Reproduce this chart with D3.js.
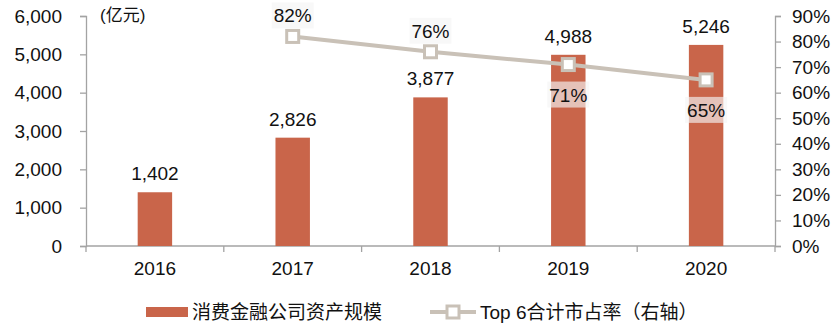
<!DOCTYPE html>
<html>
<head>
<meta charset="utf-8">
<script src="https://cdn.jsdelivr.net/npm/d3@7"></script>
<style>
  body { margin: 0; background: #fff; }
  text { font-family: "Liberation Sans", Arial, "Noto Sans CJK SC", sans-serif; fill: #111; }
</style>
</head>
<body>
<div id="vis"></div>
<script>
const years = ['2016', '2017', '2018', '2019', '2020'];
const assets = [1402, 2826, 3877, 4988, 5246];          // 亿元
const share = [null, 0.82, 0.76, 0.71, 0.65];            // Top 6 market share
const shareLabelPos = [null, 'above', 'above', 'below', 'below'];
const leftTicks = [0, 1000, 2000, 3000, 4000, 5000, 6000];
const rightTicks = [0, 0.1, 0.2, 0.3, 0.4, 0.5, 0.6, 0.7, 0.8, 0.9];
const barName = '消费金融公司资产规模';
const lineName = 'Top 6合计市占率（右轴）';
const unitLabel = '(亿元)';

const W = 838, H = 325;
const margin = { top: 16, right: 63, bottom: 79, left: 86 };
const width = W - margin.left - margin.right;
const height = H - margin.top - margin.bottom;

const barColor = '#c9654a';
const lineColor = '#c9c1b7';
const axisColor = '#a3a3a3';
const fs = 19;

const svg = d3.select('#vis')
    .append('svg')
    .attr('width', W)
    .attr('height', H)
    .append('g')
    .attr('transform', `translate(${margin.left},${margin.top})`);

const x = d3.scaleBand()
    .domain(years)
    .range([0, width])
    .paddingInner(0.75)
    .paddingOuter(0.375);
const yL = d3.scaleLinear().domain([0, 6000]).range([height, 0]);
const yR = d3.scaleLinear().domain([0, 0.9]).range([height, 0]);
const cx = d => x(d) + x.bandwidth() / 2;

// left axis
const leftAxis = svg.append('g')
    .call(d3.axisLeft(yL).tickValues(leftTicks).tickFormat(d3.format(',')).tickSize(6).tickPadding(18));
// right axis
const rightAxis = svg.append('g')
    .attr('transform', `translate(${width},0)`)
    .call(d3.axisRight(yR).tickValues(rightTicks).tickFormat(d3.format('.0%')).tickSize(6).tickPadding(11));

[leftAxis, rightAxis].forEach(a => {
    a.select('.domain').attr('stroke', axisColor).attr('stroke-width', 1.3);
    a.selectAll('.tick line').attr('stroke', axisColor).attr('stroke-width', 1.3);
    a.selectAll('.tick text').attr('font-size', fs).style('font-family', '"Liberation Sans", Arial, sans-serif').attr('fill', '#111');
});

// x axis baseline + boundary ticks
svg.append('line')
    .attr('x1', 0).attr('x2', width)
    .attr('y1', height).attr('y2', height)
    .attr('stroke', axisColor).attr('stroke-width', 1.3);
const bounds = years.map(d => x(d) - (x.step() - x.bandwidth()) / 2).concat([width]);
svg.selectAll('.xtick')
    .data(bounds)
    .enter()
    .append('line')
    .attr('x1', d => d).attr('x2', d => d)
    .attr('y1', height).attr('y2', height + 6)
    .attr('stroke', axisColor).attr('stroke-width', 1.3);
svg.selectAll('.xlabel')
    .data(years)
    .enter()
    .append('text')
    .attr('x', d => cx(d))
    .attr('y', height + 29)
    .attr('text-anchor', 'middle')
    .attr('font-size', fs)
    .text(d => d);

// unit label
svg.append('text')
    .attr('x', 14)
    .attr('y', 5)
    .attr('font-size', 17)
    .text(unitLabel);

// bars
svg.selectAll('.bar')
    .data(years)
    .enter()
    .append('rect')
    .attr('x', d => x(d))
    .attr('width', x.bandwidth())
    .attr('y', (d, i) => yL(assets[i]))
    .attr('height', (d, i) => height - yL(assets[i]))
    .attr('fill', barColor);

svg.selectAll('.barlabel')
    .data(years)
    .enter()
    .append('text')
    .attr('x', d => cx(d))
    .attr('y', (d, i) => yL(assets[i]) - 12)
    .attr('text-anchor', 'middle')
    .attr('font-size', fs)
    .text((d, i) => d3.format(',')(assets[i]));

// line
const pts = years.map((d, i) => ({ year: d, v: share[i], pos: shareLabelPos[i] })).filter(d => d.v != null);
const line = d3.line().x(d => cx(d.year)).y(d => yR(d.v));
svg.append('path')
    .datum(pts)
    .attr('d', line)
    .attr('fill', 'none')
    .attr('stroke', lineColor)
    .attr('stroke-width', 4);

svg.selectAll('.marker')
    .data(pts)
    .enter()
    .append('rect')
    .attr('x', d => cx(d.year) - 6)
    .attr('y', d => yR(d.v) - 6)
    .attr('width', 12)
    .attr('height', 12)
    .attr('fill', '#fff')
    .attr('stroke', lineColor)
    .attr('stroke-width', 3);

// share labels with light background
const lab = svg.selectAll('.sharelabel')
    .data(pts)
    .enter()
    .append('g');
lab.append('rect')
    .attr('x', d => cx(d.year) - 21)
    .attr('y', d => yR(d.v) + (d.pos === 'above' ? -34 : 17))
    .attr('width', 42)
    .attr('height', 26)
    .attr('fill', '#f4f4f4')
    .attr('opacity', 0.65);
lab.append('text')
    .attr('x', d => cx(d.year))
    .attr('y', d => yR(d.v) + (d.pos === 'above' ? -14 : 37))
    .attr('text-anchor', 'middle')
    .attr('font-size', fs)
    .text(d => d3.format('.0%')(d.v));

// legend
const legend = svg.append('g')
    .attr('transform', `translate(0,${height + 66})`);
legend.append('rect')
    .attr('x', 60).attr('y', -5)
    .attr('width', 42).attr('height', 10)
    .attr('fill', barColor);
legend.append('text')
    .attr('x', 106).attr('y', 7)
    .attr('font-size', fs)
    .text(barName);
legend.append('line')
    .attr('x1', 344).attr('x2', 390)
    .attr('y1', 0).attr('y2', 0)
    .attr('stroke', lineColor).attr('stroke-width', 4);
legend.append('rect')
    .attr('x', 361).attr('y', -6)
    .attr('width', 12).attr('height', 12)
    .attr('fill', '#fff')
    .attr('stroke', lineColor).attr('stroke-width', 3);
legend.append('text')
    .attr('x', 394).attr('y', 7)
    .attr('font-size', fs)
    .text(lineName);
</script>
</body>
</html>
